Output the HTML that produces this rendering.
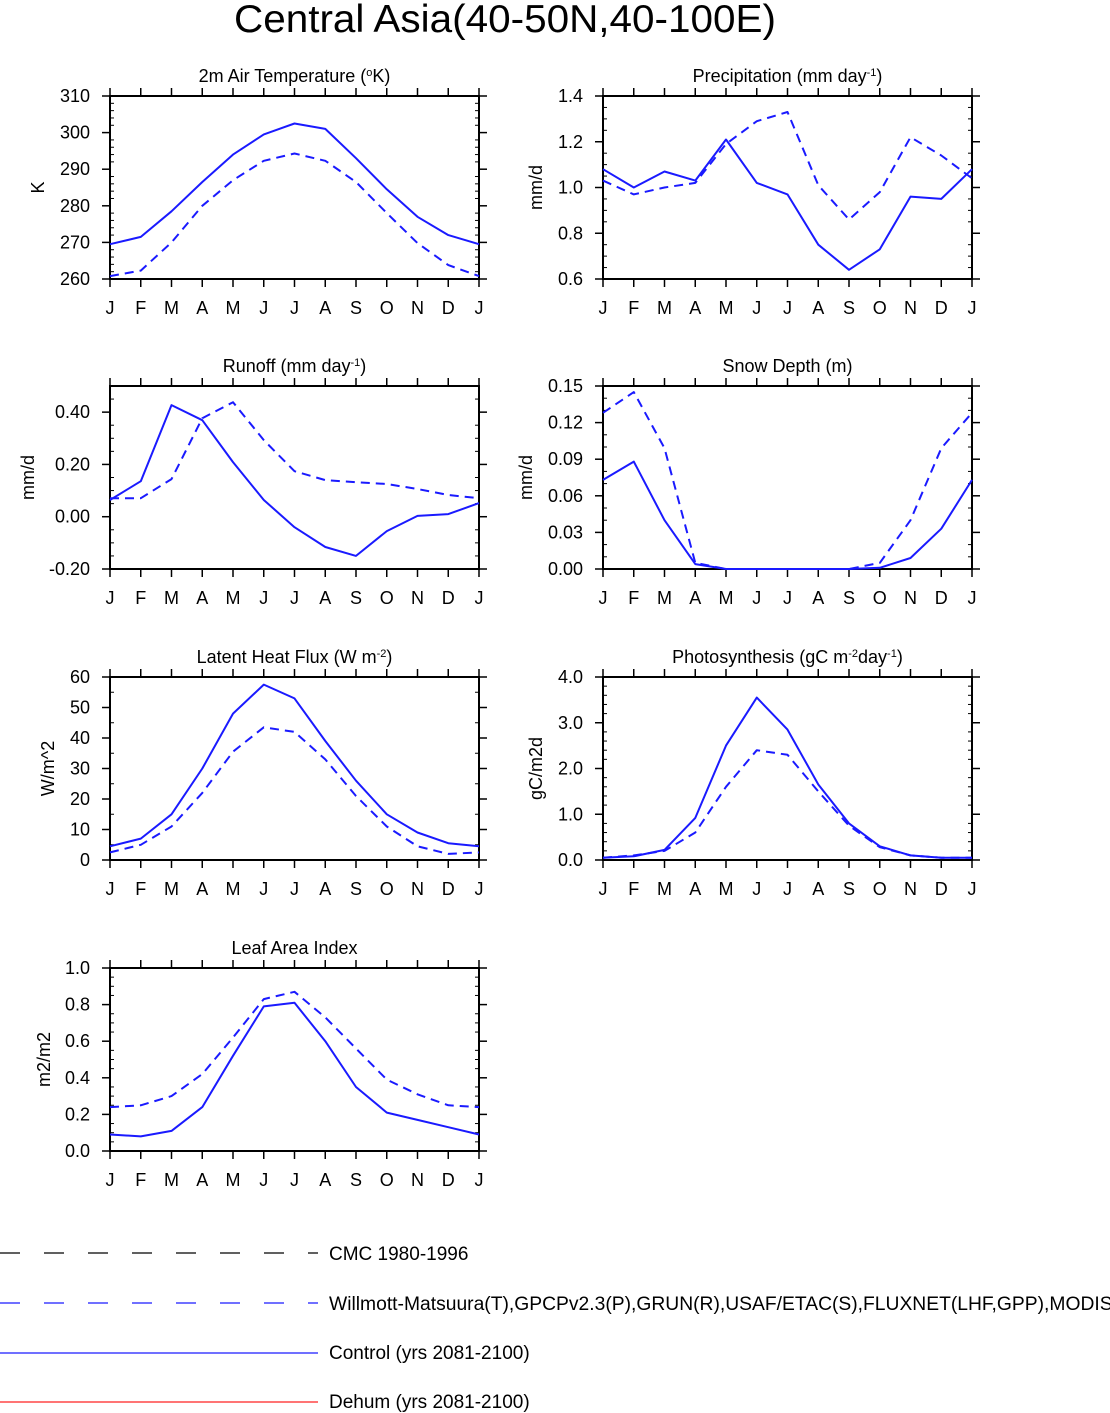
<!DOCTYPE html>
<html><head><meta charset="utf-8"><style>
html,body{margin:0;padding:0;background:#fff;}
svg{display:block;font-family:"Liberation Sans",sans-serif;}
</style></head><body>
<svg id="chart" width="1110" height="1413" viewBox="0 0 1110 1413" xmlns="http://www.w3.org/2000/svg">
<text x="505" y="32" font-size="39" text-anchor="middle" textLength="542" lengthAdjust="spacingAndGlyphs">Central Asia(40-50N,40-100E)</text>
<g id="panels"></g>
<g font-size="19">
<line x1="0" y1="1253" x2="318" y2="1253" stroke="#000" stroke-width="1.2" stroke-dasharray="20,24"/>
<text x="329" y="1260">CMC 1980-1996</text>
<line x1="0" y1="1303" x2="318" y2="1303" stroke="#1a1aff" stroke-width="1.2" stroke-dasharray="20,24"/>
<text x="329" y="1310" textLength="790" lengthAdjust="spacingAndGlyphs">Willmott-Matsuura(T),GPCPv2.3(P),GRUN(R),USAF/ETAC(S),FLUXNET(LHF,GPP),MODIS(</text>
<line x1="0" y1="1353" x2="318" y2="1353" stroke="#1a1aff" stroke-width="1.2"/>
<text x="329" y="1359">Control (yrs 2081-2100)</text>
<line x1="0" y1="1402" x2="318" y2="1402" stroke="#ff2020" stroke-width="1.2"/>
<text x="329" y="1408">Dehum (yrs 2081-2100)</text>
</g>
</svg>
<script>
const months = ["J","F","M","A","M","J","J","A","S","O","N","D","J"];
const tempControl = [269.5,271.5,278.5,286.5,294,299.5,302.5,301,293,284.5,277,272,269.5];
const tempObs = [260.8,262.3,270,280,287,292.3,294.3,292.3,286.5,278,269.8,263.8,260.8];
const tempTicks = [260,270,280,290,300,310];
const precipControl = [1.08,1.00,1.07,1.03,1.21,1.02,0.97,0.75,0.64,0.73,0.96,0.95,1.08];
const precipObs = [1.03,0.97,1.00,1.02,1.19,1.29,1.33,1.01,0.86,0.98,1.22,1.14,1.04];
const precipTicks = [0.6,0.8,1.0,1.2,1.4];
const runoffControl = [0.064,0.136,0.427,0.369,0.209,0.064,-0.04,-0.116,-0.15,-0.055,0.003,0.01,0.052];
const runoffObs = [0.071,0.071,0.144,0.377,0.438,0.293,0.174,0.14,0.132,0.125,0.106,0.083,0.071];
const runoffTicks = [-0.2,0,0.2,0.4];
const snowControl = [0.073,0.088,0.04,0.004,0,0,0,0,0,0.001,0.009,0.033,0.073];
const snowObs = [0.128,0.145,0.099,0.005,0,0,0,0,0,0.005,0.04,0.099,0.128];
const snowCmc = [0,0,0,0,0,0,0,0,0,0,0,0,0];
const snowTicks = [0,0.03,0.06,0.09,0.12,0.15];
const lhfControl = [4.5,7,15,30,48,57.5,53,39,26,15,9,5.5,4.5];
const lhfObs = [2.5,5,11,22,35.5,43.5,42,33,21,11,4.5,2,2.5];
const lhfTicks = [0,10,20,30,40,50,60];
const gppControl = [0.05,0.08,0.22,0.92,2.5,3.55,2.85,1.65,0.8,0.3,0.1,0.05,0.05];
const gppObs = [0.05,0.1,0.2,0.6,1.6,2.4,2.3,1.5,0.75,0.28,0.1,0.05,0.05];
const gppTicks = [0,1,2,3,4];
const laiControl = [0.09,0.08,0.11,0.24,0.52,0.79,0.81,0.6,0.35,0.21,0.17,0.13,0.09];
const laiObs = [0.24,0.25,0.3,0.42,0.62,0.83,0.87,0.73,0.56,0.39,0.31,0.25,0.24];
const laiTicks = [0,0.2,0.4,0.6,0.8,1.0];

const NS="http://www.w3.org/2000/svg";
const root=document.getElementById('panels');
function mk(tag,attrs,parent){const e=document.createElementNS(NS,tag);for(const k in attrs)e.setAttribute(k,attrs[k]);parent.appendChild(e);return e;}

const panels=[
 {name:"temperature",title:'2m Air Temperature (<tspan baseline-shift="super" font-size="11">o</tspan>K)',ytitle:"K",x0:110,y0:96,min:260,max:310,ticks:tempTicks,dec:0,minor:4,series:[[tempObs,true],[tempControl,false]],ytx:44},
 {name:"precipitation",title:'Precipitation (mm day<tspan baseline-shift="super" font-size="11">-1</tspan>)',ytitle:"mm/d",x0:603,y0:96,min:0.6,max:1.4,ticks:precipTicks,dec:1,minor:3,series:[[precipObs,true],[precipControl,false]],ytx:542},
 {name:"runoff",title:'Runoff (mm day<tspan baseline-shift="super" font-size="11">-1</tspan>)',ytitle:"mm/d",x0:110,y0:386,min:-0.2,max:0.5,ticks:runoffTicks,dec:2,minor:3,series:[[runoffObs,true],[runoffControl,false]],ytx:34},
 {name:"snow-depth",title:'Snow Depth (m)',ytitle:"mm/d",x0:603,y0:386,min:0,max:0.15,ticks:snowTicks,dec:2,minor:2,series:[[snowCmc,"cmc"],[snowObs,true],[snowControl,false]],ytx:532},
 {name:"latent-heat-flux",title:'Latent Heat Flux (W m<tspan baseline-shift="super" font-size="11">-2</tspan>)',ytitle:"W/m^2",x0:110,y0:677,min:0,max:60,ticks:lhfTicks,dec:0,minor:1,series:[[lhfObs,true],[lhfControl,false]],ytx:54},
 {name:"photosynthesis",title:'Photosynthesis (gC m<tspan baseline-shift="super" font-size="11">-2</tspan>day<tspan baseline-shift="super" font-size="11">-1</tspan>)',ytitle:"gC/m2d",x0:603,y0:677,min:0,max:4,ticks:gppTicks,dec:1,minor:4,series:[[gppObs,true],[gppControl,false]],ytx:542},
 {name:"leaf-area-index",title:'Leaf Area Index',ytitle:"m2/m2",x0:110,y0:968,min:0,max:1,ticks:laiTicks,dec:1,minor:3,series:[[laiObs,true],[laiControl,false]],ytx:50}
];
const W=369,H=183;
panels.forEach(p=>{
 const g=mk('g',{},root);
 
 
 const xs=i=>p.x0+i*W/12;
 const ys=v=>p.y0+H-(v-p.min)/(p.max-p.min)*H;
 const t=mk('text',{x:p.x0+W/2,y:p.y0-14,'font-size':18,'text-anchor':'middle'},g);
 t.innerHTML=p.title;
 
 
 const yt=mk('text',{x:p.ytx,y:p.y0+H/2,'font-size':18,'text-anchor':'middle',transform:`rotate(-90 ${p.ytx} ${p.y0+H/2})`},g);
 yt.textContent=p.ytitle;
 
 
 months.forEach((m,i)=>{
  const x=xs(i);
  mk('line',{x1:x,x2:x,y1:p.y0+H,y2:p.y0+H+8,stroke:'#000','stroke-width':1.5},g);
  mk('line',{x1:x,x2:x,y1:p.y0,y2:p.y0-8,stroke:'#000','stroke-width':1.5},g);
  const l=mk('text',{x:x,y:p.y0+H+35,'font-size':18,'text-anchor':'middle'},g);
  l.textContent=m;
  
  
 });
 const step=p.ticks[1]-p.ticks[0];
 p.ticks.forEach((v,i)=>{
  const y=ys(v);
  mk('line',{x1:p.x0-8,x2:p.x0,y1:y,y2:y,stroke:'#000','stroke-width':1.5},g);
  mk('line',{x1:p.x0+W,x2:p.x0+W+8,y1:y,y2:y,stroke:'#000','stroke-width':1.5},g);
  const l=mk('text',{x:p.x0-20,y:y+6,'font-size':18,'text-anchor':'end'},g);
  l.textContent=v.toFixed(p.dec);
  
  
  for(let k=1;k<=p.minor;k++){
   const mv=v+k*step/(p.minor+1);
   if(mv>p.max+1e-9)break;
   const my=ys(mv);
   mk('line',{x1:p.x0,x2:p.x0+4,y1:my,y2:my,stroke:'#000','stroke-width':1},g);
   mk('line',{x1:p.x0+W-4,x2:p.x0+W,y1:my,y2:my,stroke:'#000','stroke-width':1},g);
  }
 });
 mk('rect',{x:p.x0,y:p.y0,width:W,height:H,fill:'none',stroke:'#000','stroke-width':2},g);
 p.series.forEach(([arr,kind])=>{
  const pts=arr.map((v,i)=>xs(i).toFixed(1)+','+ys(v).toFixed(1)).join(' ');
  const attrs={points:pts,fill:'none',stroke:kind==="cmc"?'#000':'#1a1aff','stroke-width':kind==="cmc"?1.2:2,'stroke-linejoin':'round'};
  if(kind) attrs['stroke-dasharray']='9,6';
  const pl=mk('polyline',attrs,g);
  
  
 });
});
</script>
</body></html>
